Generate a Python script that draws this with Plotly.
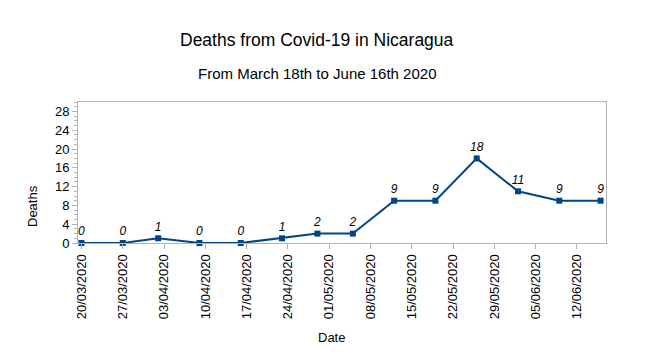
import plotly.graph_objects as go

dates = ["2020-03-20", "2020-03-27", "2020-04-02", "2020-04-09", "2020-04-16",
         "2020-04-23", "2020-04-29", "2020-05-05", "2020-05-12", "2020-05-19",
         "2020-05-26", "2020-06-02", "2020-06-09", "2020-06-16"]
deaths = [0, 0, 1, 0, 0, 1, 2, 2, 9, 9, 18, 11, 9, 9]

title = "Deaths from Covid-19 in Nicaragua"
subtitle = "From March 18th to June 16th 2020"
x_title = "Date"
y_title = "Deaths"

FONT = "Liberation Sans, Arial, sans-serif"
BLUE = "#004586"
GRAY = "#b3b3b3"

# page body adds an 8px offset; compensate
OFF = 8
W, H = 660 - OFF, 362 - OFF
L, R, T, B = 78 - OFF, 54, 102 - OFF, 119

fig = go.Figure()
fig.add_trace(go.Scatter(
    x=dates, y=deaths, mode="lines+markers+text",
    line=dict(color=BLUE, width=2),
    marker=dict(symbol="square", size=6, color=BLUE),
    text=[str(v) for v in deaths],
    textposition="top center",
    textfont=dict(family=FONT, size=12, color="#000000", style="italic"),
    cliponaxis=False,
    showlegend=False,
))

fig.update_layout(
    width=W, height=H,
    margin=dict(l=L, r=R, t=T, b=B),
    paper_bgcolor="white", plot_bgcolor="white",
    font=dict(family=FONT, size=13, color="#000000"),
    xaxis=dict(
        type="date",
        range=["2020-03-19 10:00", "2020-06-16 22:00"],
        tick0="2020-03-20", dtick=7 * 24 * 3600 * 1000,
        tickformat="%d/%m/%Y", tickangle=-90,
        ticks="outside", ticklen=5, tickcolor=GRAY,
        showline=True, linecolor=GRAY, linewidth=1, mirror=True,
        showgrid=False, zeroline=False,
        tickfont=dict(family=FONT, size=13, color="#000000"),
    ),
    yaxis=dict(
        range=[0, 30], tick0=0, dtick=4,
        ticks="outside", ticklen=5, tickcolor=GRAY,
        minor=dict(dtick=1, ticks="outside", ticklen=3, tickcolor=GRAY),
        showline=True, linecolor=GRAY, linewidth=1, mirror=True,
        showgrid=False, zeroline=False,
        tickfont=dict(family=FONT, size=13, color="#000000"),
    ),
    annotations=[
        dict(text=title, x=317, y=40, showarrow=False,
             font=dict(family=FONT, size=17.5, color="#000000")),
        dict(text=subtitle, x=317, y=73, showarrow=False,
             font=dict(family=FONT, size=15, color="#000000")),
        dict(text=x_title, x=331, y=337, showarrow=False,
             font=dict(family=FONT, size=13, color="#000000")),
        dict(text=y_title, x=32, y=206, showarrow=False,
             textangle=-90, font=dict(family=FONT, size=13, color="#000000")),
    ],
)

# convert target screen pixel positions of annotations to paper coordinates
pw = W - L - R
ph = H - T - B
for a in fig.layout.annotations:
    px, py = a.x - OFF, a.y - OFF
    a.xref = "paper"
    a.yref = "paper"
    a.x = (px - L) / pw
    a.y = (H - B - py) / ph
    a.xanchor = "center"
    a.yanchor = "middle"

fig.write_html("out.html")
